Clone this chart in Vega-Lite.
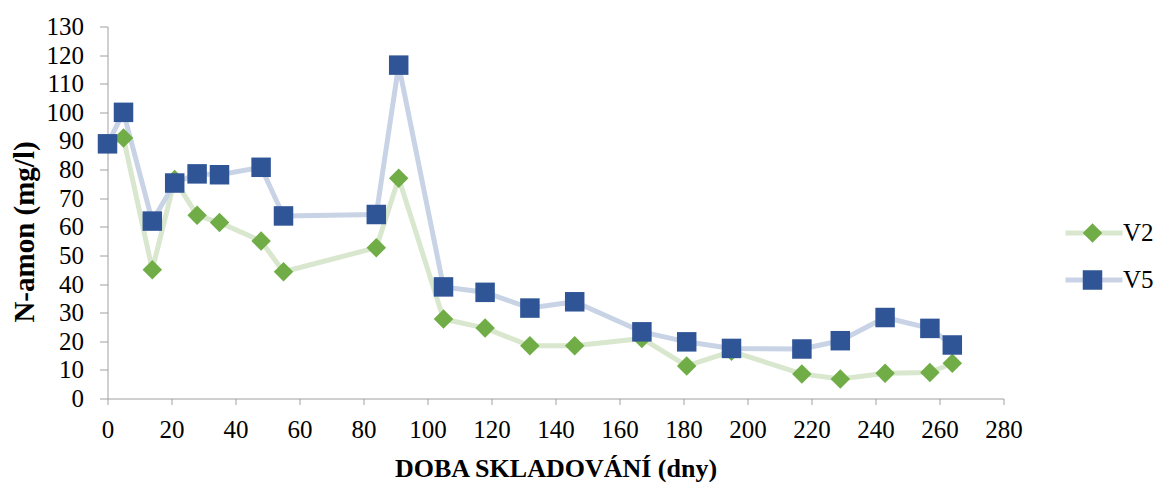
{
  "$schema": "https://vega.github.io/schema/vega-lite/v6.json",
  "width": 896,
  "height": 372,
  "autosize": {"type": "none"},
  "padding": {"left": 107.5, "top": 26.5, "right": 152.5, "bottom": 83.5},
  "background": "white",
  "config": {
    "view": {"stroke": null},
    "font": "Liberation Serif",
    "axis": {
      "grid": false,
      "domainColor": "#A0A0A0",
      "tickColor": "#A0A0A0",
      "labelFont": "Liberation Serif",
      "labelFontSize": 25,
      "labelColor": "#000000",
      "titleFont": "Liberation Serif",
      "titleFontSize": 26,
      "titleFontWeight": "bold",
      "titleColor": "#000000"
    },
    "legend": {
      "labelFont": "Liberation Serif",
      "labelFontSize": 25,
      "labelColor": "#000000"
    }
  },
  "data": {
    "values": [
      {"day": 0, "series": "V2", "value": 89},
      {"day": 5, "series": "V2", "value": 91},
      {"day": 14, "series": "V2", "value": 45},
      {"day": 21, "series": "V2", "value": 76.5},
      {"day": 28, "series": "V2", "value": 64},
      {"day": 35, "series": "V2", "value": 61.5},
      {"day": 48, "series": "V2", "value": 55},
      {"day": 55, "series": "V2", "value": 44.3},
      {"day": 84, "series": "V2", "value": 52.7},
      {"day": 91, "series": "V2", "value": 77},
      {"day": 105, "series": "V2", "value": 27.8},
      {"day": 118, "series": "V2", "value": 24.6},
      {"day": 132, "series": "V2", "value": 18.4},
      {"day": 146, "series": "V2", "value": 18.4},
      {"day": 167, "series": "V2", "value": 21},
      {"day": 181, "series": "V2", "value": 11.4},
      {"day": 195, "series": "V2", "value": 16.5},
      {"day": 217, "series": "V2", "value": 8.6},
      {"day": 229, "series": "V2", "value": 6.8},
      {"day": 243, "series": "V2", "value": 8.8},
      {"day": 257, "series": "V2", "value": 9.1},
      {"day": 264, "series": "V2", "value": 12.3},
      {"day": 0, "series": "V5", "value": 89},
      {"day": 5, "series": "V5", "value": 100},
      {"day": 14, "series": "V5", "value": 62},
      {"day": 21, "series": "V5", "value": 75.3},
      {"day": 28, "series": "V5", "value": 78.5},
      {"day": 35, "series": "V5", "value": 78.2},
      {"day": 48, "series": "V5", "value": 80.8},
      {"day": 55, "series": "V5", "value": 63.8},
      {"day": 84, "series": "V5", "value": 64.3},
      {"day": 91, "series": "V5", "value": 116.5},
      {"day": 105, "series": "V5", "value": 39},
      {"day": 118, "series": "V5", "value": 37.1},
      {"day": 132, "series": "V5", "value": 31.6},
      {"day": 146, "series": "V5", "value": 33.8},
      {"day": 167, "series": "V5", "value": 23.3},
      {"day": 181, "series": "V5", "value": 19.8},
      {"day": 195, "series": "V5", "value": 17.5},
      {"day": 217, "series": "V5", "value": 17.3},
      {"day": 229, "series": "V5", "value": 20.2},
      {"day": 243, "series": "V5", "value": 28.3},
      {"day": 257, "series": "V5", "value": 24.5},
      {"day": 264, "series": "V5", "value": 18.7}
    ]
  },
  "encoding": {
    "x": {
      "field": "day",
      "type": "quantitative",
      "scale": {"domain": [0, 280], "nice": false},
      "axis": {
        "title": "DOBA SKLADOVÁNÍ (dny)",
        "values": [0, 20, 40, 60, 80, 100, 120, 140, 160, 180, 200, 220, 240, 260, 280],
        "tickSize": 6,
        "labelBaseline": "alphabetic",
        "labelPadding": 33,
        "labelFlush": false,
        "labelOverlap": false,
        "titleY": 78,
        "titleBaseline": "alphabetic",
        "titleAnchor": "middle"
      }
    },
    "y": {
      "field": "value",
      "type": "quantitative",
      "scale": {"domain": [0, 130], "nice": false},
      "axis": {
        "title": "N-amon (mg/l)",
        "values": [0, 10, 20, 30, 40, 50, 60, 70, 80, 90, 100, 110, 120, 130],
        "tickSize": 8,
        "labelPadding": 16,
        "labelOverlap": false,
        "labelFlush": false,
        "titleFontSize": 29,
        "titleAngle": 270,
        "titleX": -83,
        "titleY": 205,
        "titleAlign": "center",
        "titleBaseline": "middle"
      }
    }
  },
  "layer": [
    {
      "mark": {"type": "line", "strokeWidth": 5, "strokeJoin": "round"},
      "encoding": {
        "stroke": {
          "field": "series",
          "type": "nominal",
          "scale": {"domain": ["V2", "V5"], "range": ["#D8E7CD", "#C9D3E6"]},
          "legend": {
            "title": null,
            "orient": "none",
            "legendX": 955.5,
            "legendY": 194.5,
            "padding": 0,
            "symbolType": "stroke",
            "symbolSize": 3249,
            "symbolStrokeWidth": 5,
            "symbolOffset": 0,
            "labelOffset": -2,
            "labelLimit": 60,
            "clipHeight": 24,
            "rowPadding": 22,
            "zindex": 0
          }
        }
      }
    },
    {
      "mark": {"type": "point", "filled": true, "size": 380, "opacity": 1, "strokeWidth": 0},
      "encoding": {
        "fill": {
          "field": "series",
          "type": "nominal",
          "scale": {"range": ["#70AD47", "#2F5597"]},
          "legend": {
            "title": null,
            "orient": "none",
            "legendX": 955.5,
            "legendY": 194.5,
            "padding": 0,
            "symbolSize": 380,
            "symbolOffset": 17,
            "symbolStrokeWidth": 0,
            "labelExpr": "''",
            "clipHeight": 24,
            "rowPadding": 22,
            "zindex": 1
          }
        },
        "shape": {
          "field": "series",
          "type": "nominal",
          "scale": {"range": ["diamond", "square"]},
          "legend": {
            "title": null,
            "orient": "none",
            "legendX": 955.5,
            "legendY": 194.5,
            "padding": 0,
            "symbolSize": 380,
            "symbolOffset": 17,
            "symbolStrokeWidth": 0,
            "labelExpr": "''",
            "clipHeight": 24,
            "rowPadding": 22,
            "zindex": 1
          }
        }
      }
    }
  ]
}
